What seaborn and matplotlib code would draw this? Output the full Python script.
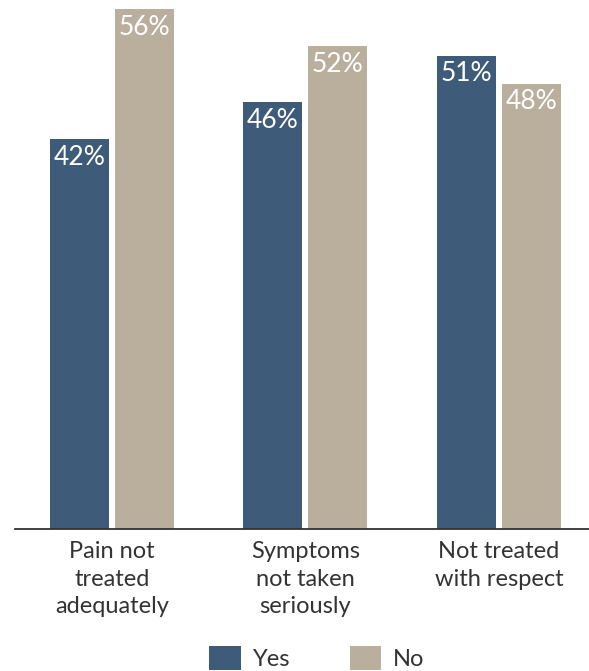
import matplotlib
matplotlib.use("Agg")
import matplotlib.pyplot as plt
import seaborn as sns
import pandas as pd
from matplotlib.patches import Patch

categories = ["Pain not\ntreated\nadequately", "Symptoms\nnot taken\nseriously", "Not treated\nwith respect"]
yes_values = [42, 46, 51]
no_values = [56, 52, 48]
series = ["Yes", "No"]
colors = {"Yes": "#3E5C7A", "No": "#BAAF9C"}

df = pd.DataFrame({
    "category": categories * 2,
    "value": yes_values + no_values,
    "series": ["Yes"] * 3 + ["No"] * 3,
})

sns.set_theme(style="white")
plt.rcParams["font.family"] = ["Lato", "DejaVu Sans"]

fig = plt.figure(figsize=(5.89, 6.71), dpi=100)
ax = fig.add_axes([15 / 589, (671 - 529) / 671, 1 - 15 / 589, 529 / 671])

sns.barplot(data=df, x="category", y="value", hue="series", hue_order=series,
            palette=colors, width=0.672, gap=0.092, ax=ax, legend=False,
            saturation=1, edgecolor="none")

ax.set_xlim(-0.5, 2.465)
ax.set_ylim(0, 57)
ax.set_xlabel("")
ax.set_ylabel("")
ax.set_yticks([])
for s in ["top", "right", "left"]:
    ax.spines[s].set_visible(False)
ax.spines["bottom"].set_color("#333333")
ax.spines["bottom"].set_linewidth(1.3)
ax.tick_params(axis="x", length=0, pad=9, labelsize=17, colors="#333333")
for lbl in ax.get_xticklabels():
    lbl.set_linespacing(1.36)

for container in ax.containers:
    for bar, v in zip(container.patches, container.datavalues):
        ax.annotate(f"{v:.0f}%", (bar.get_x() + bar.get_width() / 2, bar.get_height()),
                    xytext=(0, -13), textcoords="offset points", ha="center", va="center",
                    color="white", fontsize=19)

handles = [Patch(facecolor=colors[s], edgecolor="none", label=s) for s in series]
leg = fig.legend(handles=handles, loc="center", bbox_to_anchor=(317 / 589, (671 - 658) / 671),
                 ncol=2, frameon=False, fontsize=17, handlelength=1.35, handleheight=1.2,
                 handletextpad=0.5, columnspacing=2.5, labelcolor="#333333", borderpad=0)

fig.savefig("out.png", dpi=100)
